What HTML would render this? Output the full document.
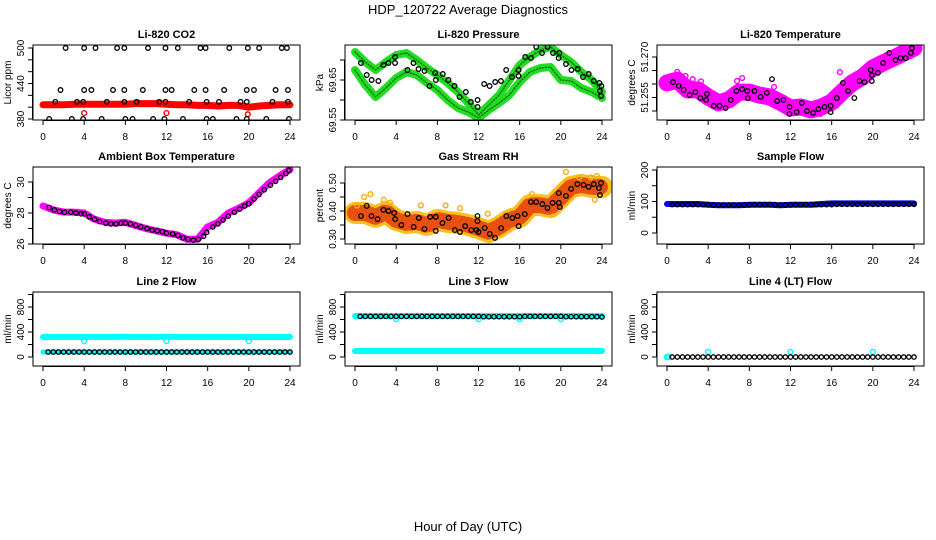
<!DOCTYPE html>
<html><head><meta charset="utf-8">
<style>
html,body{margin:0;padding:0;background:#fff;}
svg{display:block;font-family:"Liberation Sans",Arial,sans-serif;}
</style></head>
<body>
<svg id="chart" width="936" height="540" viewBox="0 0 936 540">
<text x="468" y="14" text-anchor="middle" font-size="13">HDP_120722  Average Diagnostics</text>
<text x="468" y="531" text-anchor="middle" font-size="13">Hour of Day (UTC)</text>
</svg>
<script>
// ---------- data ----------
const bandHours = [0,1,2,3,4,5,6,7,8,9,10,11,12,13,14,15,16,17,18,19,20,21,22,23,24];
const xTicks = [0,4,8,12,16,20,24];

// CO2
const co2Red = [404,404,404,405,405,405,405,405,405,406,406,406,405,404,404,403,403,402,403,403,400,402,403,404,404];
const co2BlackHours = [2.2,4.0,5.1,7.2,7.9,10.2,11.9,13.1,15.3,15.8,18.1,19.9,21.0,23.2,23.7,
  1.7,4.0,4.7,6.8,7.9,9.7,11.9,12.5,14.7,15.8,17.6,19.8,20.5,22.6,23.8,
  1.2,3.3,3.9,6.2,7.9,9.1,11.3,11.9,14.2,15.9,17.1,19.2,19.8,22.3,23.8,
  0.6,2.8,3.9,5.7,8.0,8.7,10.7,11.8,13.6,15.9,16.5,18.8,19.8,21.7,23.9];
const co2BlackVals = [500,500,500,500,500,500,500,500,500,500,500,500,500,500,500,
  429,429,429,429,429,429,429,429,429,429,429,429,429,429,429,
  409,409,409,409,409,409,409,409,409,409,409,409,409,409,409,
  380,380,380,380,380,380,380,380,380,380,380,380,380,380,380];
const co2RedOutHours = [4.0,12.0,19.9];
const co2RedOutVals = [390,390,388];

// Pressure
const presTrack1 = [69.72,69.695,69.675,69.695,69.7125,69.7175,69.70,69.68,69.6625,69.6425,69.62,69.5925,69.5625,69.5875,69.6125,69.65,69.6875,69.7075,69.725,69.7325,69.7125,69.695,69.67,69.65,69.62];
const presTrack2 = [69.675,69.6375,69.6075,69.63,69.655,69.67,69.6625,69.6425,69.625,69.60,69.58,69.57,69.555,69.575,69.5925,69.6125,69.645,69.67,69.68,69.6825,69.65,69.6475,69.63,69.62,69.605];
const presBlackHours = [0.58,1.14,1.62,2.27,2.76,3.25,3.89,3.89,5.1,5.68,6.17,6.75,7.24,7.78,7.85,8.53,9.08,9.67,10.16,10.77,11.26,11.91,11.91,12.55,13.08,13.62,14.18,14.69,15.25,15.9,15.9,16.54,17.1,17.61,18.17,18.72,19.24,19.79,19.85,20.5,21.03,21.64,22.16,22.71,23.2,23.74,23.8,23.9,23.94];
const presBlackVals = [69.6925,69.6625,69.65,69.6475,69.6875,69.6925,69.7075,69.6925,69.675,69.6925,69.6775,69.6725,69.635,69.6675,69.65,69.665,69.65,69.635,69.6075,69.62,69.595,69.60,69.5825,69.64,69.635,69.645,69.6475,69.675,69.6575,69.675,69.66,69.7075,69.705,69.7325,69.7175,69.7325,69.7175,69.705,69.7175,69.69,69.675,69.6775,69.6575,69.665,69.6475,69.6425,69.6225,69.61,69.635];

// Li-820 temperature
const tempBand = [51.2604,51.2615,51.2578,51.2578,51.2552,51.2530,51.2541,51.2570,51.2570,51.2559,51.2552,51.2533,51.2511,51.2515,51.2504,51.2515,51.2533,51.2570,51.2604,51.2626,51.2659,51.2678,51.2696,51.2715,51.2733];
const tempBlackHours = [0.58,1.14,1.62,2.2,2.76,3.25,3.8,3.89,4.54,5.1,5.7,6.2,6.75,7.3,7.8,7.85,8.5,9.1,9.7,10.2,10.7,11.3,11.9,11.9,12.6,13.1,13.6,14.2,14.7,15.3,15.9,15.9,16.5,17.1,17.6,18.2,18.7,19.2,19.8,19.9,19.9,20.5,21.0,21.6,22.2,22.7,23.2,23.7,23.8];
const tempBlackVals = [51.2607,51.2593,51.2578,51.2559,51.2570,51.2548,51.2541,51.2563,51.2519,51.2519,51.2511,51.2541,51.2574,51.2581,51.2574,51.2548,51.2574,51.2552,51.2567,51.2618,51.2537,51.2541,51.2515,51.2489,51.2496,51.2530,51.2500,51.2493,51.2507,51.2515,51.2519,51.2496,51.2548,51.2604,51.2574,51.2548,51.2611,51.2607,51.2652,51.2633,51.2611,51.2641,51.2678,51.2715,51.2689,51.2696,51.2696,51.2715,51.2733];
const tempPinkHours = [0.3,1.0,1.8,2.5,3.3,6.8,7.3,10.4,12.8,14.9,16.8,18.8,20.0,21.3];
const tempPinkVals = [51.2593,51.2645,51.2630,51.2618,51.2610,51.2611,51.2622,51.2589,51.2500,51.2489,51.2644,51.2600,51.2674,51.2707];

// Ambient box temperature
const ambBand = [28.45,28.2,28.06,28.06,28.0,27.6,27.4,27.35,27.4,27.2,27.0,26.85,26.7,26.6,26.3,26.3,27.1,27.4,28.0,28.3,28.65,29.3,29.95,30.4,30.8];
const ambBlackHours = [0.6,1.1,1.6,2.1,2.7,3.2,3.7,4.0,4.5,5.0,5.5,6.1,6.6,7.1,7.6,8.0,8.5,9.0,9.5,10.1,10.6,11.1,11.6,12.0,12.6,13.1,13.6,14.1,14.6,15.1,15.6,15.9,16.5,17.0,17.5,18.0,18.6,19.1,19.6,20.0,20.5,21.0,21.5,22.1,22.6,23.1,23.6,23.9];
const ambBlackVals = [28.35,28.2,28.1,28.05,28.05,28.0,27.95,27.95,27.75,27.6,27.45,27.35,27.3,27.3,27.35,27.35,27.3,27.2,27.1,27.0,26.9,26.85,26.8,26.7,26.65,26.55,26.4,26.3,26.25,26.3,26.5,26.75,27.1,27.3,27.55,27.8,28.05,28.25,28.45,28.6,28.9,29.2,29.5,29.8,30.05,30.3,30.55,30.75];

// Gas stream RH
const rhBand = [0.393,0.393,0.379,0.396,0.368,0.357,0.361,0.350,0.368,0.361,0.357,0.350,0.339,0.325,0.343,0.368,0.379,0.421,0.421,0.414,0.45,0.486,0.493,0.486,0.486];
const rhBlackHours = [0.58,1.14,1.6,2.2,2.76,3.25,3.8,3.9,4.5,5.1,5.7,6.2,6.75,7.3,7.85,7.85,8.5,9.1,9.7,10.2,10.7,11.3,11.8,11.9,11.9,12.0,12.6,13.1,13.6,14.2,14.7,15.3,15.8,15.9,16.5,17.1,17.6,18.2,18.7,19.2,19.8,19.8,19.9,20.5,21.0,21.6,22.2,22.7,23.2,23.7,23.8,23.9];
const rhBlackVals = [0.382,0.418,0.382,0.371,0.404,0.40,0.393,0.371,0.35,0.389,0.343,0.375,0.336,0.379,0.379,0.329,0.357,0.375,0.332,0.325,0.346,0.332,0.332,0.382,0.364,0.325,0.339,0.318,0.304,0.339,0.382,0.375,0.382,0.346,0.389,0.432,0.432,0.425,0.411,0.429,0.429,0.464,0.414,0.454,0.479,0.496,0.493,0.486,0.496,0.482,0.457,0.50];
const rhOrangeHours = [0.2,0.9,1.5,2.8,3.4,6.4,8.8,10.2,12.9,17.2,20.5,21.8,22.9,23.5,23.3];
const rhOrangeVals = [0.42,0.45,0.46,0.44,0.43,0.42,0.42,0.41,0.39,0.46,0.54,0.52,0.52,0.525,0.44];

// Flows
const flowHours = [0.5,1.0,1.5,2.0,2.5,3.0,3.5,4.0,4.5,5.0,5.5,6.0,6.5,7.0,7.5,8.0,8.5,9.0,9.5,10.0,10.5,11.0,11.5,12.0,12.5,13.0,13.5,14.0,14.5,15.0,15.5,16.0,16.5,17.0,17.5,18.0,18.5,19.0,19.5,20.0,20.5,21.0,21.5,22.0,22.5,23.0,23.5,24.0];
const sampleBand = [92,92,92,92,90,88,88,88,90,90,90,88,90,90,90,92,94,94,94,94,94,94,94,94,94];
const sampleBlack = [90,90,90,90,90,90,90,90,89,89,89,89,89,89,89,89,90,90,90,90,90,89,89,89,90,90,90,90,90,90,90,90,91,91,91,91,91,91,91,91,91,91,91,91,91,91,91,91];
const line2CyanHigh = [320,322,322,322,322,322,322,322,324,322,322,322,324,322,322,322,322,322,322,322,320,320,320,320,320];
const line2CyanLow = [80,80,80,80,80,80,80,80,80,80,80,80,80,80,80,80,80,80,80,80,80,80,80,80,80];
const line2Black = [80,80,80,80,80,80,80,80,80,80,80,80,80,80,80,80,80,80,80,80,80,80,80,80,80,80,80,80,80,80,80,80,80,80,80,80,80,80,80,80,80,80,80,80,80,80,80,80];
const line2OutHours = [4.0,12.0,20.0];
const line2OutVals = [256,256,256];
const line3CyanHigh = [656,656,656,656,656,656,656,656,656,656,656,656,656,656,656,656,656,656,656,656,656,656,656,656,656];
const line3CyanLow = [96,96,96,96,96,96,96,96,96,96,96,96,96,96,96,96,96,96,96,96,96,96,96,96,96];
const line3Black = [650,650,650,650,650,650,650,650,650,650,650,650,650,650,650,650,650,650,650,650,650,650,650,650,645,645,645,645,645,645,645,645,650,650,650,650,650,650,650,650,645,645,645,645,645,645,645,640];
const line3OutHours = [4.0,12.0,16.0,20.0];
const line3OutVals = [608,608,608,608];
const line4Black = [0,0,0,0,0,0,0,0,0,0,0,0,0,0,0,0,0,0,0,0,0,0,0,0,0,0,0,0,0,0,0,0,0,0,0,0,0,0,0,0,0,0,0,0,0,0,0,0];
const line4OutHours = [0.0,0.15,4.0,12.0,20.0];
const line4OutVals = [0,0,80,80,80];

// ---------- drawing ----------
const NS = "http://www.w3.org/2000/svg";
const svg = document.getElementById("chart");
function mk(tag, attrs, parent){
  const e = document.createElementNS(NS, tag);
  for (const k in attrs) e.setAttribute(k, attrs[k]);
  (parent||svg).appendChild(e);
  return e;
}
const colLeft = [33,345,657];
const rowBox = [[45,120],[167,244],[292,366]];
const boxW = 267;

function makePanel(col,row,name,title,ylab,ticks,labels,yLo,yHi){
  const L = colLeft[col], T = rowBox[row][0], B = rowBox[row][1];
  const g = mk("g",{});
  
  
  const xs = h => L + 10 + h*247/24;
  const t0 = ticks[0], t1 = ticks[ticks.length-1];
  const ys = v => yLo + (v - t0) * (yHi - yLo) / (t1 - t0);
  const cp = mk("clipPath",{id:"clip-"+name},g);
  mk("rect",{x:L,y:T,width:boxW,height:B-T},cp);
  const plot = mk("g",{"clip-path":"url(#clip-"+name+")"},g);
  
  
  const fr = mk("rect",{x:L,y:T,width:boxW,height:B-T,fill:"none",stroke:"#000","stroke-width":1},g);
  
  
  const tt = mk("text",{x:L+boxW/2,y:T-7,"text-anchor":"middle","font-size":11,"font-weight":"bold"},g);
  tt.textContent = title;
  
  
  const xa = mk("g",{},g);
  
  
  mk("line",{x1:xs(xTicks[0]),x2:xs(xTicks[xTicks.length-1]),y1:B+0.5,y2:B+0.5,stroke:"#000"},xa);
  xTicks.forEach(h=>{
    mk("line",{x1:xs(h),x2:xs(h),y1:B,y2:B+5,stroke:"#000"},xa);
    const tl = mk("text",{x:xs(h),y:B+20,"text-anchor":"middle","font-size":10},xa);
    tl.textContent = h;
    
    
  });
  const ya = mk("g",{},g);
  
  
  mk("line",{x1:L-0.5,x2:L-0.5,y1:ys(t0),y2:ys(t1),stroke:"#000"},ya);
  ticks.forEach((v,i)=>{
    const y = ys(v);
    mk("line",{x1:L-5,x2:L,y1:y,y2:y,stroke:"#000"},ya);
    if (labels[i]) {
      const tl = mk("text",{x:L-9,y:y,"text-anchor":"middle","font-size":10,transform:"rotate(-90 "+(L-9)+" "+y+")"},ya);
      tl.textContent = labels[i];
      
      
    }
  });
  const yt = mk("text",{x:L-22,y:(T+B)/2,"text-anchor":"middle","font-size":10,transform:"rotate(-90 "+(L-22)+" "+((T+B)/2)+")"},g);
  yt.textContent = ylab;
  
  
  return {plot,xs,ys};
}
function band(p,hours,vals,color,width,name){
  const pts = hours.map((h,i)=>p.xs(h).toFixed(1)+","+p.ys(vals[i]).toFixed(1)).join(" ");
  const pl = mk("polyline",{points:pts,fill:"none",stroke:color,"stroke-width":width,"stroke-linejoin":"round","stroke-linecap":"round"},p.plot);
  
  
  return pl;
}
function pts(p,hours,vals,color,r,sw,name){
  const g = mk("g",{},p.plot);
  
  
  hours.forEach((h,i)=>{
    const c = mk("circle",{cx:p.xs(h),cy:p.ys(vals[i]),r:r,fill:"none",stroke:color,"stroke-width":sw},g);
    
    
  });
}

// Panel 1: CO2
let p = makePanel(0,0,"co2","Li-820 CO2","Licor ppm",[380,400,420,440,460,480,500],["380","","","440","","","500"],119,48);
band(p,bandHours,co2Red,"#ff0000",7,"co2-red-series");
pts(p,co2RedOutHours,co2RedOutVals,"#ff0000",2.4,1.4,"co2-red-outliers");
pts(p,co2BlackHours,co2BlackVals,"#000",2.3,1.3,"co2-black-points");

// Panel 2: Pressure
p = makePanel(1,0,"pressure","Li-820 Pressure","kPa",[69.55,69.60,69.65,69.70],["69.55","","69.65",""],120,60);
band(p,bandHours,presTrack1,"#22dd22",8,"pressure-green-track-1");
band(p,bandHours,presTrack2,"#22dd22",8,"pressure-green-track-2");
band(p,bandHours,presTrack1,"#117711",1.5,"pressure-green-track-1-texture").setAttribute("stroke-dasharray","1 2");
band(p,bandHours,presTrack2,"#117711",1.5,"pressure-green-track-2-texture").setAttribute("stroke-dasharray","1 2");
pts(p,presBlackHours,presBlackVals,"#000",2.3,1.3,"pressure-black-points");

// Panel 3: Li-820 temperature
p = makePanel(2,0,"li820-temp","Li-820 Temperature","degrees C",[51.250,51.255,51.260,51.265,51.270],["","51.255","","","51.270"],111,57);
band(p,bandHours,tempBand,"#ff00ff",17,"li820-temp-magenta-series");
pts(p,tempPinkHours,tempPinkVals,"#ff00ff",2.4,1.4,"li820-temp-magenta-outliers");
pts(p,tempBlackHours,tempBlackVals,"#000",2.3,1.3,"li820-temp-black-points");

// Panel 4: Ambient
p = makePanel(0,1,"ambient","Ambient Box Temperature","degrees C",[26,27,28,29,30],["26","","28","","30"],244,182);
band(p,bandHours,ambBand,"#ff00ff",7,"ambient-magenta-series");
pts(p,ambBlackHours,ambBlackVals,"#000",2.2,1.3,"ambient-black-points");

// Panel 5: RH
p = makePanel(1,1,"rh","Gas Stream RH","percent",[0.30,0.35,0.40,0.45,0.50],["0.30","","0.40","","0.50"],239,183);
band(p,bandHours,rhBand,"#f8c020",22,"rh-orange-series");
band(p,bandHours,rhBand,"#e85010",16,"rh-red-texture").setAttribute("stroke-dasharray","1 4");
pts(p,rhOrangeHours,rhOrangeVals,"#f5b020",2.4,1.5,"rh-orange-outliers");
pts(p,rhBlackHours,rhBlackVals,"#000",2.3,1.3,"rh-black-points");

// Panel 6: Sample flow
p = makePanel(2,1,"sample-flow","Sample Flow","ml/min",[0,50,100,150,200],["0","","100","","200"],233,170);
band(p,bandHours,sampleBand,"#0000ee",6,"sample-flow-blue-series");
pts(p,flowHours,sampleBlack,"#000",2.2,1.3,"sample-flow-black-points");

// Panel 7: Line 2
const flowTicks = [0,200,400,600,800,1000];
const flowLabels = ["0","","400","","800",""];
p = makePanel(0,2,"line2","Line 2 Flow","ml/min",flowTicks,flowLabels,357,294.5);
band(p,bandHours,line2CyanHigh,"#00ffff",6,"line2-cyan-high");
band(p,bandHours,line2CyanLow,"#00ffff",5,"line2-cyan-low");
pts(p,line2OutHours,line2OutVals,"#00ffff",2.5,1.5,"line2-cyan-outliers");
pts(p,flowHours,line2Black,"#000",2.2,1.3,"line2-black-points");

// Panel 8: Line 3
p = makePanel(1,2,"line3","Line 3 Flow","ml/min",flowTicks,flowLabels,357,294.5);
band(p,bandHours,line3CyanHigh,"#00ffff",6,"line3-cyan-high");
band(p,bandHours,line3CyanLow,"#00ffff",6,"line3-cyan-low");
pts(p,line3OutHours,line3OutVals,"#00ffff",2.5,1.5,"line3-cyan-outliers");
pts(p,flowHours,line3Black,"#000",2.2,1.3,"line3-black-points");

// Panel 9: Line 4
p = makePanel(2,2,"line4","Line 4 (LT) Flow","ml/min",flowTicks,flowLabels,357,294.5);
pts(p,line4OutHours,line4OutVals,"#00ffff",2.5,1.5,"line4-cyan-outliers");
pts(p,flowHours,line4Black,"#000",2.2,1.3,"line4-black-points");
</script>
</body></html>
